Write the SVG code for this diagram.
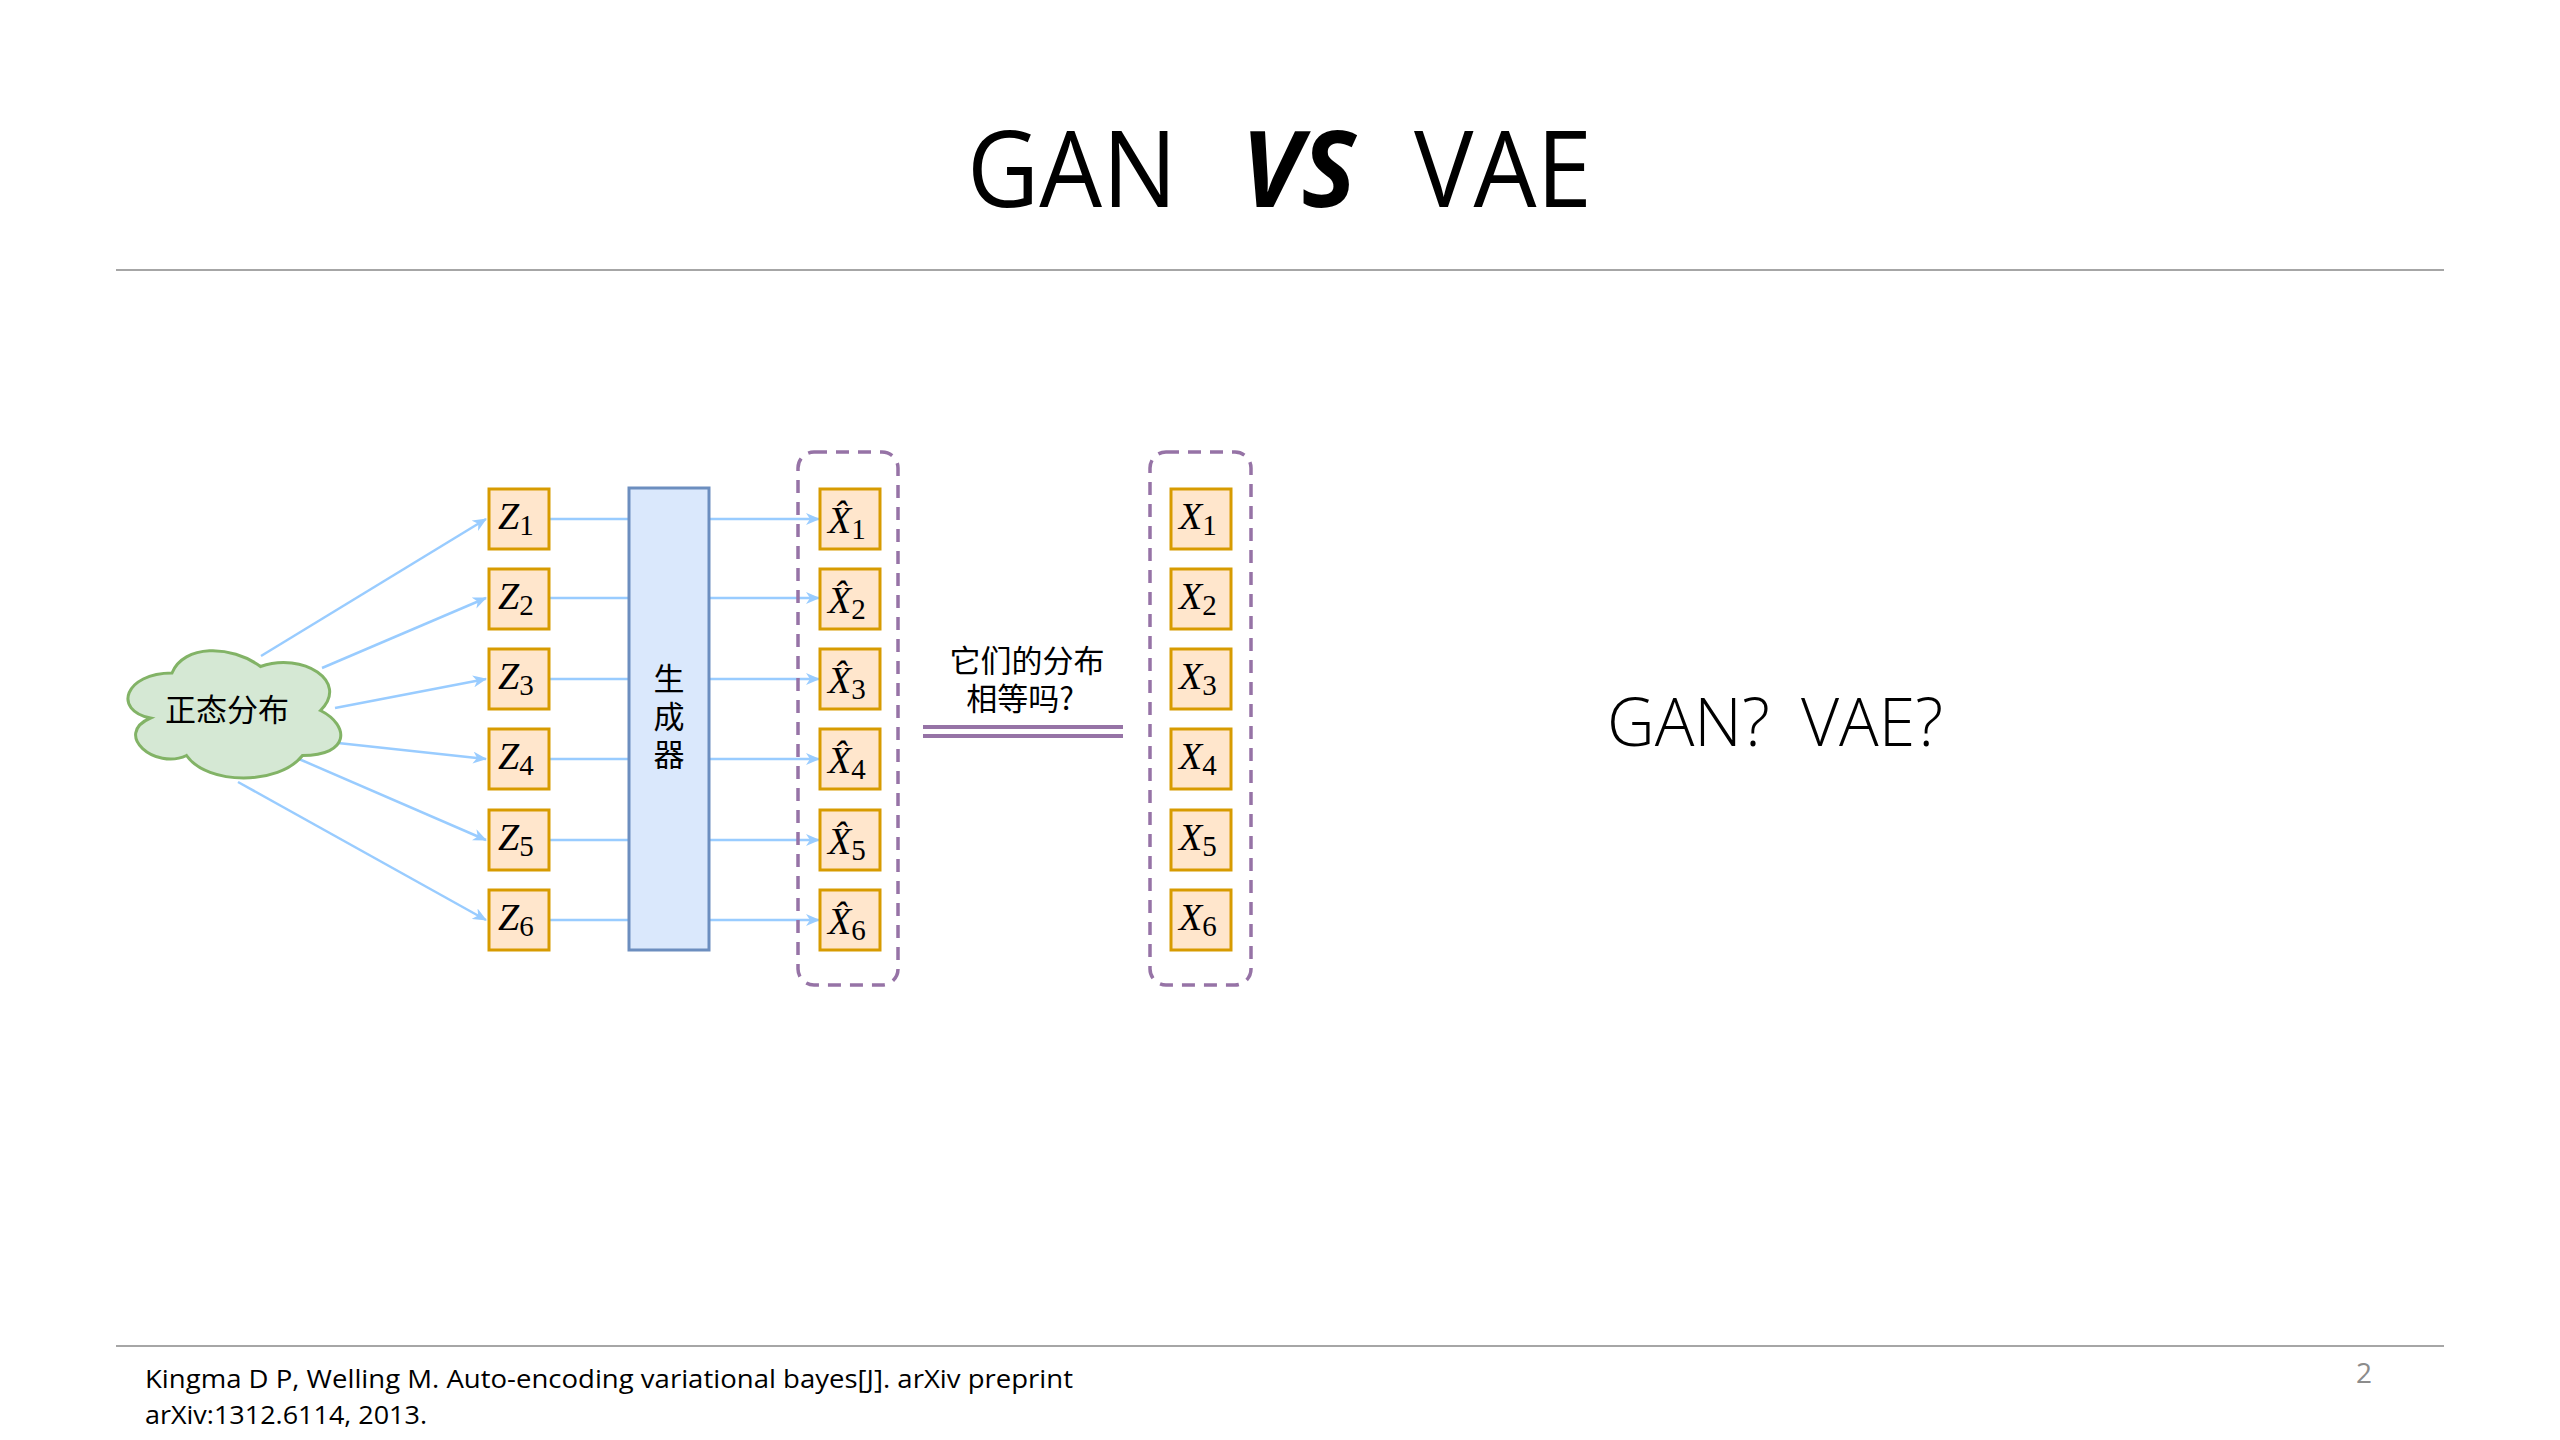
<svg xmlns="http://www.w3.org/2000/svg" width="2560" height="1440" viewBox="0 0 2560 1440">
<defs>
<style>
.box{fill:#ffe6cc;stroke:#d79b00;stroke-width:3}
.cont{fill:none;stroke:#9673a6;stroke-width:3.5;stroke-dasharray:13 9}
.conn{stroke:#99ccff;stroke-width:2.5;fill:none}
.math{font-family:"Liberation Serif",serif;font-size:38px;fill:#000}
.mi{font-style:italic}
.sub{font-size:29px}
.cjk{font-family:"Noto Sans CJK SC",sans-serif;fill:#000}
</style>
<marker id="arr" viewBox="0 0 14 12" refX="13" refY="6" markerWidth="14" markerHeight="12" markerUnits="userSpaceOnUse" orient="auto">
<path d="M0,0 L14,6 L0,12 L4,6 Z" fill="#99ccff"/>
</marker>
</defs>
<rect width="2560" height="1440" fill="#fff"/>
<g id="title" font-family="Open Sans, sans-serif" font-size="106" fill="#000">
<text x="967" y="207" textLength="210" lengthAdjust="spacingAndGlyphs">GAN</text>
<text x="1241" y="207" font-weight="bold" font-style="italic" textLength="115" lengthAdjust="spacingAndGlyphs">VS</text>
<text x="1414" y="207" textLength="178" lengthAdjust="spacingAndGlyphs">VAE</text>
</g>
<line x1="116" y1="270" x2="2444" y2="270" stroke="#a6a6a6" stroke-width="2"/>
<line x1="116" y1="1346" x2="2444" y2="1346" stroke="#a6a6a6" stroke-width="2"/>
<g id="connectors">
<line class="conn" x1="261" y1="656" x2="486" y2="519" marker-end="url(#arr)"/>
<line class="conn" x1="322" y1="668" x2="486" y2="598" marker-end="url(#arr)"/>
<line class="conn" x1="335" y1="708" x2="486" y2="679" marker-end="url(#arr)"/>
<line class="conn" x1="338" y1="743" x2="486" y2="759" marker-end="url(#arr)"/>
<line class="conn" x1="299" y1="759" x2="486" y2="840" marker-end="url(#arr)"/>
<line class="conn" x1="238" y1="782" x2="486" y2="920" marker-end="url(#arr)"/>
<line class="conn" x1="549" y1="519" x2="629" y2="519"/>
<line class="conn" x1="549" y1="598" x2="629" y2="598"/>
<line class="conn" x1="549" y1="679" x2="629" y2="679"/>
<line class="conn" x1="549" y1="759" x2="629" y2="759"/>
<line class="conn" x1="549" y1="840" x2="629" y2="840"/>
<line class="conn" x1="549" y1="920" x2="629" y2="920"/>
<line class="conn" x1="709" y1="519" x2="819" y2="519" marker-end="url(#arr)"/>
<line class="conn" x1="709" y1="598" x2="819" y2="598" marker-end="url(#arr)"/>
<line class="conn" x1="709" y1="679" x2="819" y2="679" marker-end="url(#arr)"/>
<line class="conn" x1="709" y1="759" x2="819" y2="759" marker-end="url(#arr)"/>
<line class="conn" x1="709" y1="840" x2="819" y2="840" marker-end="url(#arr)"/>
<line class="conn" x1="709" y1="920" x2="819" y2="920" marker-end="url(#arr)"/>
<line x1="923" y1="727" x2="1123" y2="727" stroke="#9673a6" stroke-width="4"/>
<line x1="923" y1="736" x2="1123" y2="736" stroke="#9673a6" stroke-width="4"/>
</g>
<g id="cloud">
<path d="M172,673 C124.5,673 112.5,710.5 150.5,718 C112.5,734.5 155.5,770.5 186.5,755.5 C207.5,785.5 279,785.5 302.5,755.5 C350,755.5 350,725.5 320.5,710.5 C350,681.5 302.5,651.5 260.5,666.5 C231,644.5 183.5,644.5 172,673 Z" fill="#d5e8d4" stroke="#82b366" stroke-width="3"/>
<text class="cjk" x="227" y="721" font-size="31" text-anchor="middle">正态分布</text>
</g>
<g id="z1"><rect class="box" x="489" y="489" width="60" height="60"/><text class="math" x="498" y="529"><tspan class="mi">Z</tspan><tspan class="sub" dy="6">1</tspan></text></g>
<g id="z2"><rect class="box" x="489" y="569" width="60" height="60"/><text class="math" x="498" y="609"><tspan class="mi">Z</tspan><tspan class="sub" dy="6">2</tspan></text></g>
<g id="z3"><rect class="box" x="489" y="649" width="60" height="60"/><text class="math" x="498" y="689"><tspan class="mi">Z</tspan><tspan class="sub" dy="6">3</tspan></text></g>
<g id="z4"><rect class="box" x="489" y="729" width="60" height="60"/><text class="math" x="498" y="769"><tspan class="mi">Z</tspan><tspan class="sub" dy="6">4</tspan></text></g>
<g id="z5"><rect class="box" x="489" y="810" width="60" height="60"/><text class="math" x="498" y="850"><tspan class="mi">Z</tspan><tspan class="sub" dy="6">5</tspan></text></g>
<g id="z6"><rect class="box" x="489" y="890" width="60" height="60"/><text class="math" x="498" y="930"><tspan class="mi">Z</tspan><tspan class="sub" dy="6">6</tspan></text></g>
<g id="generator">
<rect x="629" y="488" width="80" height="462" fill="#dae8fc" stroke="#6c8ebf" stroke-width="3"/>
<text class="cjk" font-size="31" text-anchor="middle"><tspan x="669" y="690">生</tspan><tspan x="669" y="728">成</tspan><tspan x="669" y="766">器</tspan></text>
</g>
<g id="gen-group"><rect class="cont" x="798" y="452" width="100" height="533" rx="16"/></g>
<g id="xh1"><rect class="box" x="820" y="489" width="60" height="60"/><text class="math" x="828" y="533"><tspan class="mi">X̂</tspan><tspan class="sub" dy="6">1</tspan></text></g>
<g id="xh2"><rect class="box" x="820" y="569" width="60" height="60"/><text class="math" x="828" y="613"><tspan class="mi">X̂</tspan><tspan class="sub" dy="6">2</tspan></text></g>
<g id="xh3"><rect class="box" x="820" y="649" width="60" height="60"/><text class="math" x="828" y="693"><tspan class="mi">X̂</tspan><tspan class="sub" dy="6">3</tspan></text></g>
<g id="xh4"><rect class="box" x="820" y="729" width="60" height="60"/><text class="math" x="828" y="773"><tspan class="mi">X̂</tspan><tspan class="sub" dy="6">4</tspan></text></g>
<g id="xh5"><rect class="box" x="820" y="810" width="60" height="60"/><text class="math" x="828" y="854"><tspan class="mi">X̂</tspan><tspan class="sub" dy="6">5</tspan></text></g>
<g id="xh6"><rect class="box" x="820" y="890" width="60" height="60"/><text class="math" x="828" y="934"><tspan class="mi">X̂</tspan><tspan class="sub" dy="6">6</tspan></text></g>
<g id="real-group"><rect class="cont" x="1150" y="452" width="101" height="533" rx="16"/></g>
<g id="x1"><rect class="box" x="1171" y="489" width="60" height="60"/><text class="math" x="1179" y="529"><tspan class="mi">X</tspan><tspan class="sub" dy="6">1</tspan></text></g>
<g id="x2"><rect class="box" x="1171" y="569" width="60" height="60"/><text class="math" x="1179" y="609"><tspan class="mi">X</tspan><tspan class="sub" dy="6">2</tspan></text></g>
<g id="x3"><rect class="box" x="1171" y="649" width="60" height="60"/><text class="math" x="1179" y="689"><tspan class="mi">X</tspan><tspan class="sub" dy="6">3</tspan></text></g>
<g id="x4"><rect class="box" x="1171" y="729" width="60" height="60"/><text class="math" x="1179" y="769"><tspan class="mi">X</tspan><tspan class="sub" dy="6">4</tspan></text></g>
<g id="x5"><rect class="box" x="1171" y="810" width="60" height="60"/><text class="math" x="1179" y="850"><tspan class="mi">X</tspan><tspan class="sub" dy="6">5</tspan></text></g>
<g id="x6"><rect class="box" x="1171" y="890" width="60" height="60"/><text class="math" x="1179" y="930"><tspan class="mi">X</tspan><tspan class="sub" dy="6">6</tspan></text></g>
<g id="question">
<text class="cjk" font-size="31" text-anchor="middle"><tspan x="1027" y="672">它们的分布</tspan><tspan x="1020" y="710">相等吗?</tspan></text>
</g>
<text x="1607" y="746" font-family="Open Sans, sans-serif" font-weight="300" font-size="66" fill="#000">GAN?</text>
<text x="1801" y="746" font-family="Open Sans, sans-serif" font-weight="300" font-size="66" fill="#000">VAE?</text>
<g id="footer" font-family="Open Sans, sans-serif" font-size="26" fill="#000">
<text x="145" y="1388" textLength="928" lengthAdjust="spacingAndGlyphs">Kingma D P, Welling M. Auto-encoding variational bayes[J]. arXiv preprint</text>
<text x="145" y="1424" textLength="282" lengthAdjust="spacingAndGlyphs">arXiv:1312.6114, 2013.</text>
</g>
<text x="2356" y="1383" font-family="Open Sans, sans-serif" font-size="28" fill="#8c8c8c">2</text>
</svg>
